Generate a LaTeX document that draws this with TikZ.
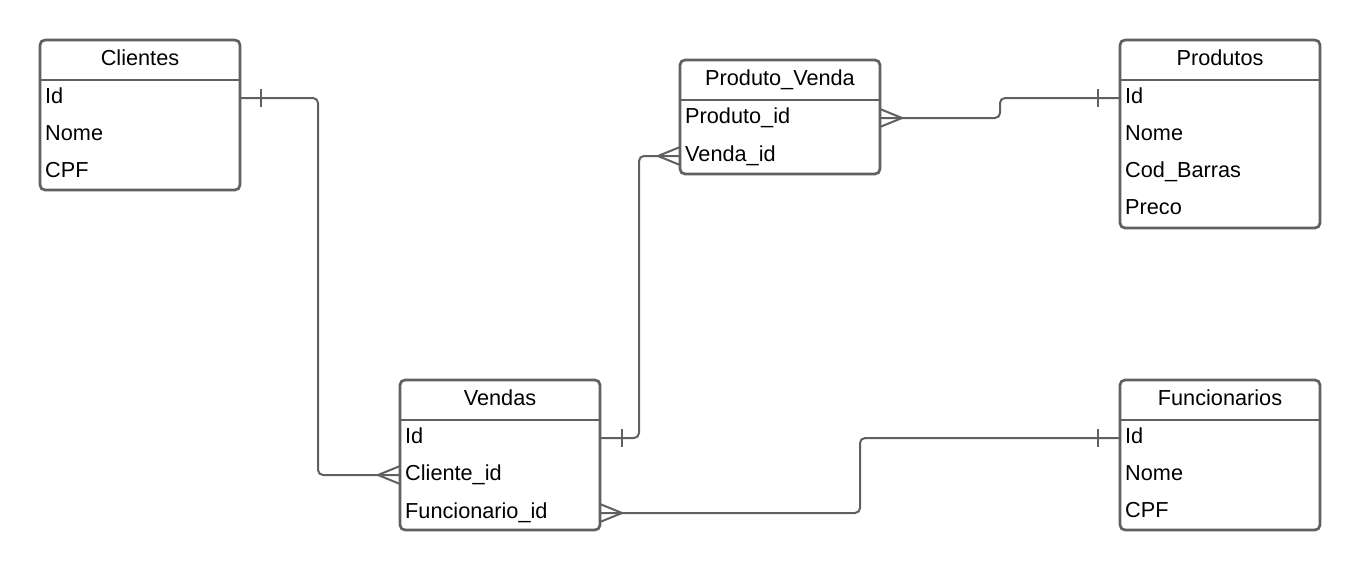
\documentclass[tikz,border=0pt]{standalone}
\usepackage{fontspec}
\setmainfont{Liberation Sans}
\usetikzlibrary{calc}
\definecolor{ln}{HTML}{606060}
\begin{document}
\begin{tikzpicture}[x=1pt,y=-1pt,
  tbl/.style={draw=ln, line width=2.7pt, rounded corners=5pt, fill=white, minimum width=200pt, anchor=north west, inner sep=0pt, outer sep=0pt},
  sep/.style={draw=ln, line width=2.7pt},
  hdr/.style={font=\fontsize{21.7}{25}\selectfont, inner sep=0pt, anchor=base},
  fld/.style={font=\fontsize{21.7}{25}\selectfont, inner sep=0pt, text height=15pt, text depth=5pt, anchor=base west},
  conn/.style={draw=ln, line width=2pt, rounded corners=5pt},
  tick/.style={draw=ln, line width=2pt}]
\useasboundingbox (0,0) rectangle (1360,571);

% Clientes
\node[tbl, minimum height=150pt] (cli) at (40,40) {};
\draw[sep] (cli.north west |- 0,80) -- (cli.north east |- 0,80);
\node[hdr] (cliH) at (140,65) {Clientes};
\node[fld] (cliId) at (45,103) {Id};
\node[fld] (cliNome) at (45,140) {Nome};
\node[fld] (cliCpf) at (45,177) {CPF};

% Produto_Venda
\node[tbl, minimum height=114pt] (pv) at (680,60) {};
\draw[sep] (pv.north west |- 0,100) -- (pv.north east |- 0,100);
\node[hdr] (pvH) at (780,85) {Produto\_Venda};
\node[fld] (pvProd) at (685,123) {Produto\_id};
\node[fld] (pvVen) at (685,161) {Venda\_id};

% Produtos
\node[tbl, minimum height=188pt] (prd) at (1120,40) {};
\draw[sep] (prd.north west |- 0,80) -- (prd.north east |- 0,80);
\node[hdr] (prdH) at (1220,65) {Produtos};
\node[fld] (prdId) at (1125,103) {Id};
\node[fld] (prdNome) at (1125,140) {Nome};
\node[fld] (prdCod) at (1125,177) {Cod\_Barras};
\node[fld] (prdPreco) at (1125,214) {Preco};

% Vendas
\node[tbl, minimum height=150pt] (ven) at (400,380) {};
\draw[sep] (ven.north west |- 0,420) -- (ven.north east |- 0,420);
\node[hdr] (venH) at (500,405) {Vendas};
\node[fld] (venId) at (405,443) {Id};
\node[fld] (venCli) at (405,480) {Cliente\_id};
\node[fld] (venFun) at (405,518) {Funcionario\_id};

% Funcionarios
\node[tbl, minimum height=150pt] (fun) at (1120,380) {};
\draw[sep] (fun.north west |- 0,420) -- (fun.north east |- 0,420);
\node[hdr] (funH) at (1220,405) {Funcionarios};
\node[fld] (funId) at (1125,443) {Id};
\node[fld] (funNome) at (1125,480) {Nome};
\node[fld] (funCpf) at (1125,517) {CPF};

% Clientes.Id -> Vendas.Cliente_id
\draw[conn] (cli.east |- cliId) -- (318,0 |- cliId) |- (ven.west |- venCli);
\draw[tick] ($(cli.east |- cliId)+(21,-9)$) -- ++(0,18);
\draw[tick] ($(ven.west |- venCli)+(0,-9)$) -- ($(ven.west |- venCli)+(-22,0)$) -- ($(ven.west |- venCli)+(0,9)$);

% Vendas.Id -> Produto_Venda.Venda_id
\draw[conn] (ven.east |- venId) -- (639,0 |- venId) |- (pv.west |- pvVen);
\draw[tick] ($(ven.east |- venId)+(22,-9)$) -- ++(0,18);
\draw[tick] ($(pv.west |- pvVen)+(0,-9)$) -- ($(pv.west |- pvVen)+(-22,0)$) -- ($(pv.west |- pvVen)+(0,9)$);

% Produto_Venda.Produto_id -> Produtos.Id
\draw[conn] (pv.east |- pvProd) -| (1000,0 |- prdId) -- (prd.west |- prdId);
\draw[tick] ($(prd.west |- prdId)+(-22,-9)$) -- ++(0,18);
\draw[tick] ($(pv.east |- pvProd)+(0,-9)$) -- ($(pv.east |- pvProd)+(22,0)$) -- ($(pv.east |- pvProd)+(0,9)$);

% Vendas.Funcionario_id -> Funcionarios.Id
\draw[conn] (ven.east |- venFun) -| (860,0 |- funId) -- (fun.west |- funId);
\draw[tick] ($(fun.west |- funId)+(-22,-9)$) -- ++(0,18);
\draw[tick] ($(ven.east |- venFun)+(0,-9)$) -- ($(ven.east |- venFun)+(22,0)$) -- ($(ven.east |- venFun)+(0,9)$);
\end{tikzpicture}
\end{document}
